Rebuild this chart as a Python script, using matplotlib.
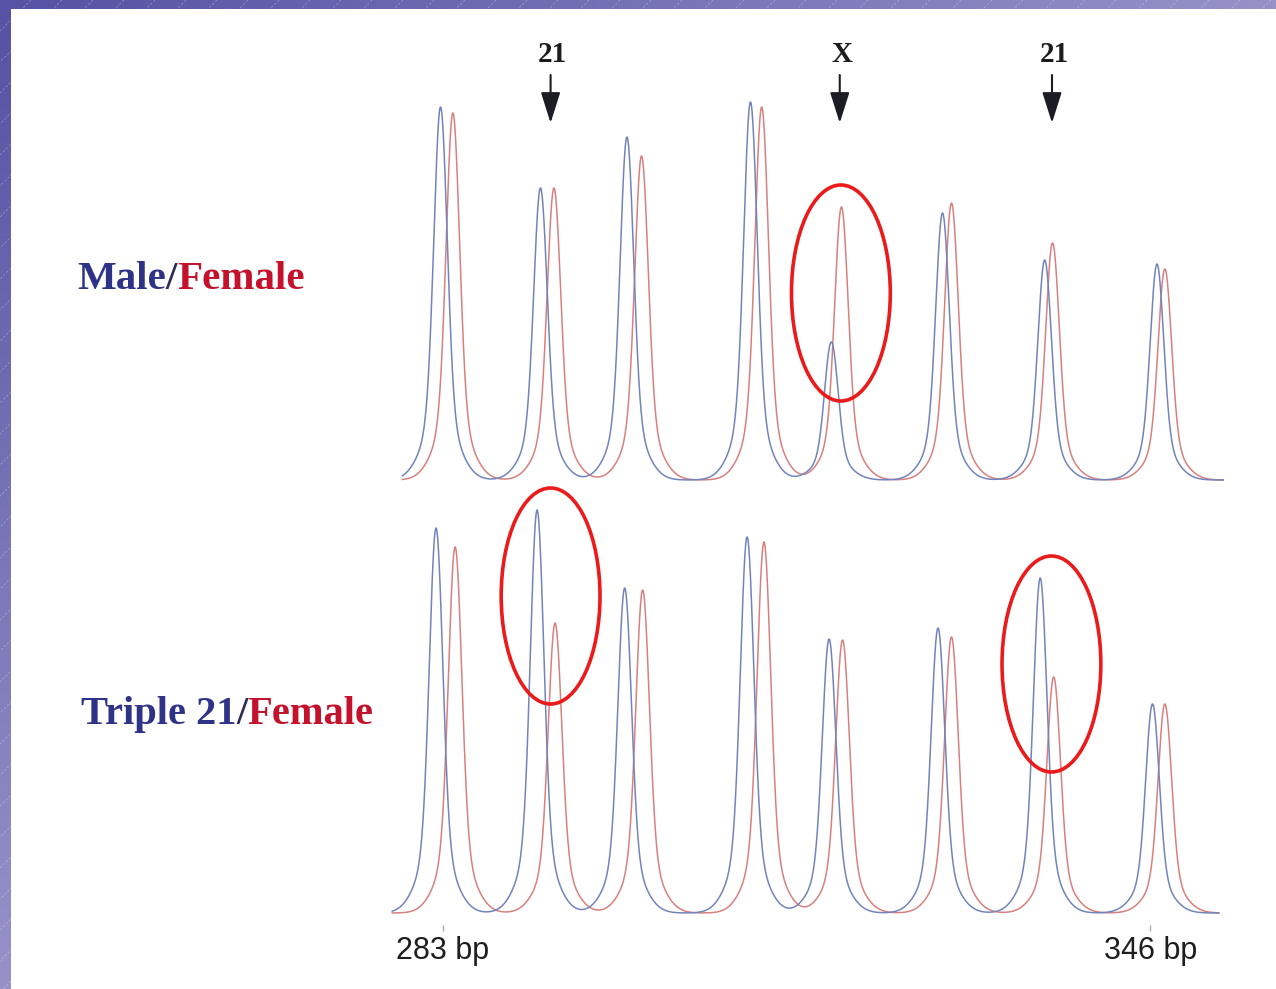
import numpy as np
import matplotlib
matplotlib.use("Agg")
import matplotlib.pyplot as plt
from matplotlib.patches import Ellipse, Rectangle

W, H = 1276, 989

# peak calls (bp) and heights (RFU) for the two runs, blue = test sample, red = female reference
top_blue_bp = [282.8, 291.7, 299.4, 310.4, 317.6, 327.5, 336.6, 346.6]
top_blue_h = [373, 292, 343, 378, 138, 267, 220, 216]
top_red_bp = [283.9, 292.9, 300.7, 311.4, 318.5, 328.3, 337.3, 347.3]
top_red_h = [367, 292, 324, 373, 273, 277, 237, 211]

bot_blue_bp = [282.4, 291.4, 299.2, 310.1, 317.4, 327.1, 336.2, 346.2]
bot_blue_h = [385, 403, 325, 376, 274, 285, 335, 209]
bot_red_bp = [284.1, 293.0, 300.8, 311.6, 318.6, 328.3, 337.4, 347.3]
bot_red_h = [366, 290, 323, 371, 273, 276, 236, 209]

top_range = (279.4, 352.5)
bot_range = (278.5, 352.1)

marker_labels = ["21", "X", "21"]
marker_peaks = [1, 4, 6]
top_circled = [4]
bot_circled = [1, 6]

tick_bp = [283, 346]
tick_labels = ["283 bp", "346 bp"]

BLUE = "#7284bb"
RED = "#d8807f"
TXT_BLUE = "#2f3388"
TXT_RED = "#c4122d"
SLASH = "#2a2a55"


def trace(x, centers, heights, width=0.58):
    """Sum of peaks: a sharp core with a wider skirt near the baseline."""
    y = np.zeros_like(x)
    for c, h in zip(centers, heights):
        core = np.exp(-0.5 * ((x - c) / width) ** 2)
        skirt = np.exp(-0.5 * ((x - c) / (2.5 * width)) ** 2)
        y += h * (0.82 * core + 0.18 * skirt)
    return y


fig = plt.figure(figsize=(W / 100, H / 100), dpi=100)

# slide frame: gradient border with faint diagonal stripes
bg = fig.add_axes([0, 0, 1, 1], zorder=0)
bg.set_xlim(0, W)
bg.set_ylim(H, 0)
bg.axis("off")
gx, gy = np.meshgrid(np.linspace(0, 1, 160), np.linspace(0, 1, 124))
t = np.clip(gx + gy, 0, 1)[..., None]
c0 = np.array([86, 82, 164]) / 255
c1 = np.array([150, 146, 200]) / 255
bg.imshow(c0 + (c1 - c0) * t, extent=(0, W, H, 0), aspect="auto", interpolation="bilinear")
for c in range(0, W + H, 31):
    bg.plot([c, c - H], [0, H], color="white", lw=0.6, alpha=0.3, ls=(0, (3, 2)))
bg.add_patch(Rectangle((11, 9), W, H, facecolor="white", edgecolor="none", zorder=3))


def two_tone(x, y, parts, size):
    prev = bg.text(x, y, parts[0][0], color=parts[0][1], fontsize=size,
                   family="Liberation Serif", weight="bold", va="baseline", zorder=5)
    for s, col in parts[1:]:
        prev = bg.annotate(s, xy=(1, 0), xycoords=prev, va="bottom", color=col,
                           fontsize=size, family="Liberation Serif", weight="bold", zorder=5)


two_tone(77, 289, [("Male", TXT_BLUE), ("/", SLASH), ("Female", TXT_RED)], 29.5)
two_tone(81, 724, [("Triple 21", TXT_BLUE), ("/", SLASH), ("Female", TXT_RED)], 29.2)

xlim = (278.3, 353.1)
ax_top = fig.add_axes([390 / W, (H - 490) / H, 840 / W, 395 / H], zorder=2)
ax_bot = fig.add_axes([390 / W, (H - 925) / H, 840 / W, 425 / H], zorder=2)
ax_top.set_ylim(-10, 385)
ax_bot.set_ylim(-12, 413)

panels = [
    (ax_top, top_range, top_blue_bp, top_blue_h, top_red_bp, top_red_h, top_circled),
    (ax_bot, bot_range, bot_blue_bp, bot_blue_h, bot_red_bp, bot_red_h, bot_circled),
]
for ax, rng, b_bp, b_h, r_bp, r_h, circled in panels:
    ax.set_xlim(*xlim)
    ax.patch.set_alpha(0)
    for s in ax.spines.values():
        s.set_visible(False)
    ax.set_yticks([])
    x = np.linspace(rng[0], rng[1], 3000)
    ax.plot(x, trace(x, r_bp, r_h), color=RED, lw=1.1)
    ax.plot(x, trace(x, b_bp, b_h), color=BLUE, lw=1.1)
    # red rings around the informative peak pairs
    for i in circled:
        cx = (b_bp[i] + r_bp[i]) / 2 + 0.4
        cy = max(b_h[i], r_h[i]) + 22 - 108
        ax.add_patch(Ellipse((cx, cy), 8.8, 216, fill=False, edgecolor="#ec1b1b",
                             lw=2.6, clip_on=False, zorder=4))

ax_top.set_xticks([])
ax_bot.set_xticks(tick_bp)
ax_bot.set_xticklabels(tick_labels, fontsize=22, family="Liberation Sans", color="#1e1e1e")
ax_bot.tick_params(axis="x", length=4, width=1, color="#aaaaaa", pad=4)

# chromosome markers above the top trace
for lab, i in zip(marker_labels, marker_peaks):
    px = (top_blue_bp[i] + top_red_bp[i]) / 2 + 0.3
    ax_top.annotate("", xy=(px, 357), xytext=(px, 405), annotation_clip=False,
                    arrowprops=dict(arrowstyle="-|>,head_length=0.95,head_width=0.3",
                                    mutation_scale=20, color="#1c1c24", lw=1.5,
                                    shrinkA=0, shrinkB=0))
    ax_top.text(px + 0.2, 418, lab, ha="center", va="baseline", fontsize=21,
                family="Liberation Serif", weight="bold", color="#1c1c1c", clip_on=False)

fig.savefig("out.png", dpi=100)
